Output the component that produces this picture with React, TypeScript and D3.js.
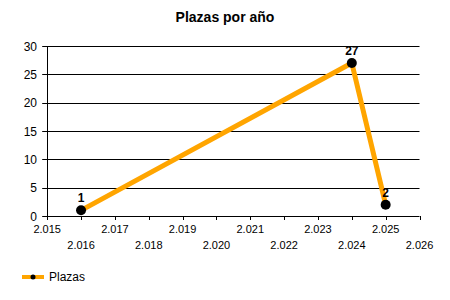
import React from "react";
import * as d3 from "d3";

const years = [2016, 2024, 2025];
const plazas = [1, 27, 2];
const xTicks = [2015, 2016, 2017, 2018, 2019, 2020, 2021, 2022, 2023, 2024, 2025, 2026];
const yTicks = [0, 5, 10, 15, 20, 25, 30];
const title = "Plazas por año";
const seriesName = "Plazas";

const W = 450, H = 300;
const FONT = "Arial, 'Liberation Sans', sans-serif";

export default function App() {
  const x = d3.scaleLinear().domain([2015, 2026]).range([47.2, 419.5]);
  const y = d3.scaleLinear().domain([0, 30]).range([216, 46]);
  const fmt = (v: number) => d3.format(".3f")(v / 1000);
  const data = years.map((yr, i) => ({ yr, v: plazas[i] }));
  const line = d3.line<{ yr: number; v: number }>().x(d => x(d.yr)).y(d => y(d.v));

  return (
    <svg width={W} height={H} style={{ position: "absolute", left: 0, top: 0, background: "#fff" }} fontFamily={FONT}>
      <rect width={W} height={H} fill="#fff" />
      <text x={225} y={22} textAnchor="middle" fontSize={14} fontWeight="bold" fill="#000">{title}</text>
      {yTicks.map(t => (
        <g key={t}>
          <line x1={x(2015) - 5} x2={x(2026)} y1={Math.round(y(t)) + 0.5} y2={Math.round(y(t)) + 0.5} stroke="#000" strokeWidth={1} />
          <text x={37} y={y(t) + 4.5} textAnchor="end" fontSize={12} fill="#000">{t}</text>
        </g>
      ))}
      <line x1={Math.round(x(2015)) + 0.5} x2={Math.round(x(2015)) + 0.5} y1={y(30)} y2={y(0) + 4} stroke="#000" />
      {xTicks.map((t, i) => (
        <g key={t}>
          <line x1={Math.round(x(t)) + 0.5} x2={Math.round(x(t)) + 0.5} y1={y(0)} y2={y(0) + 4} stroke="#000" />
          <text x={x(t)} y={i % 2 === 0 ? 233 : 249} textAnchor="middle" fontSize={11} fill="#000">{fmt(t)}</text>
        </g>
      ))}
      <path d={line(data) ?? ""} fill="none" stroke="#FFA500" strokeWidth={5} strokeLinejoin="round" />
      {data.map(d => (
        <g key={d.yr}>
          <circle cx={x(d.yr)} cy={y(d.v)} r={5} fill="#000" />
          <text x={x(d.yr)} y={y(d.v) - 8} textAnchor="middle" fontSize={12} fontWeight="bold" fill="#000">{d.v}</text>
        </g>
      ))}
      <line x1={22} x2={44} y1={277} y2={277} stroke="#FFA500" strokeWidth={4} />
      <circle cx={33} cy={277} r={2.5} fill="#000" />
      <text x={49} y={281} fontSize={12} fill="#000">{seriesName}</text>
    </svg>
  );
}
